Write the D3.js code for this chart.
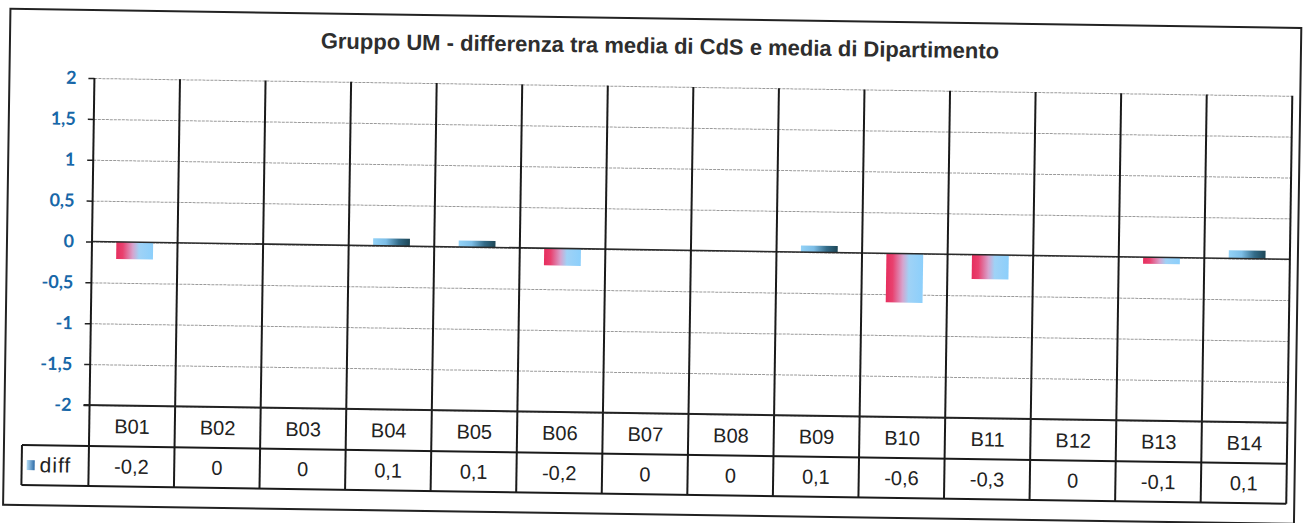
<!DOCTYPE html>
<html>
<head>
<meta charset="utf-8">
<script src="https://cdn.jsdelivr.net/npm/d3@7"></script>
<style>
  html, body { margin: 0; padding: 0; background: #fff; }
  svg { display: block; }
</style>
</head>
<body>
<svg id="chart" width="1305" height="523"></svg>
<script>
// ---- data ----
const categories = ["B01","B02","B03","B04","B05","B06","B07","B08","B09","B10","B11","B12","B13","B14"];
const diffValues = [-0.21, 0, 0, 0.09, 0.08, -0.21, 0, 0, 0.08, -0.6, -0.3, 0, -0.08, 0.1];
const yTicks = [2, 1.5, 1, 0.5, 0, -0.5, -1, -1.5, -2];
const seriesName = "diff";
const titleText = "Gruppo UM - differenza tra media di CdS e media di Dipartimento";

// ---- layout ----
const W = 1305, H = 523;
const plot = { left: 92, right: 1290, top: 78, bottom: 405 };
const table = { row1: 405, row2: 446, row3: 486, legendLeft: 25 };

const svg = d3.select("#chart");
svg.append("rect").attr("width", W).attr("height", H).attr("fill", "#fff");

const defs = svg.append("defs");
const neg = defs.append("linearGradient").attr("id", "gNeg").attr("x1", "0%").attr("x2", "100%").attr("y1", "0%").attr("y2", "0%");
[["0%", "#e62e5e"], ["18%", "#e9416f"], ["45%", "#d7a3cd"], ["62%", "#9fd2f6"], ["100%", "#8ccffb"]].forEach(s =>
  neg.append("stop").attr("offset", s[0]).attr("stop-color", s[1]));
const pos = defs.append("linearGradient").attr("id", "gPos").attr("x1", "0%").attr("x2", "100%").attr("y1", "0%").attr("y2", "0%");
[["0%", "#93d2f7"], ["35%", "#7cbde6"], ["70%", "#336b88"], ["100%", "#1d4656"]].forEach(s =>
  pos.append("stop").attr("offset", s[0]).attr("stop-color", s[1]));
const leg = defs.append("linearGradient").attr("id", "gLeg").attr("x1", "0%").attr("x2", "100%");
[["0%", "#b5def8"], ["100%", "#2c6aa6"]].forEach(s => leg.append("stop").attr("offset", s[0]).attr("stop-color", s[1]));

// whole scanned sheet is slightly rotated
const g = svg.append("g").attr("transform", "rotate(0.85, 92, 241.5)");

// outer frame
g.append("rect").attr("x", 7).attr("y", 10).attr("width", 1291).attr("height", 496)
  .attr("fill", "none").attr("stroke", "#222").attr("stroke-width", 2);

// title
g.append("text").attr("x", 657).attr("y", 45).attr("text-anchor", "middle")
  .attr("font-family", "'Liberation Sans', Arial, sans-serif").attr("font-weight", "bold")
  .attr("font-size", 22).attr("fill", "#2e2e2e").text(titleText);

// scales
const x = d3.scaleBand().domain(categories).range([plot.left, plot.right]).padding(0);
const y = d3.scaleLinear().domain([-2, 2]).range([plot.bottom, plot.top]);

// gridlines
g.append("g").attr("transform", `translate(${plot.left},0)`)
  .call(d3.axisLeft(y).tickValues(yTicks).tickSize(-(plot.right - plot.left)).tickFormat(""))
  .call(a => a.select(".domain").remove())
  .call(a => a.selectAll("line").attr("stroke", "#9a9a9a").attr("stroke-width", 1).attr("stroke-dasharray", "3,1"));

// y axis ticks and labels
g.append("g").attr("transform", `translate(${plot.left},0)`)
  .call(d3.axisLeft(y).tickValues(yTicks).tickSize(6).tickPadding(12)
    .tickFormat(d => String(d).replace(".", ",")))
  .call(a => a.select(".domain").remove())
  .call(a => a.selectAll("line").attr("stroke", "#222").attr("stroke-width", 1.5))
  .call(a => a.selectAll("text").attr("font-family", "Lato, 'Open Sans', sans-serif")
    .attr("font-weight", "bold").attr("font-size", 18).attr("fill", "#1767a8"));

// bars
const barW = x.bandwidth() * 0.43;
g.append("g").selectAll("rect").data(categories.map((c, i) => ({ c, v: diffValues[i] })).filter(d => d.v !== 0))
  .join("rect")
  .attr("x", d => x(d.c) + (x.bandwidth() - barW) / 2)
  .attr("y", d => y(Math.max(0, d.v)))
  .attr("width", barW)
  .attr("height", d => Math.abs(y(d.v) - y(0)))
  .attr("fill", d => d.v < 0 ? "url(#gNeg)" : "url(#gPos)");

// zero line
g.append("line").attr("x1", plot.left).attr("x2", plot.right).attr("y1", y(0)).attr("y2", y(0))
  .attr("stroke", "#2a2a2a").attr("stroke-width", 1.6);

// vertical category lines (through table)
const bounds = categories.map(c => x(c)).concat([plot.right]);
g.append("g").selectAll("line").data(bounds).join("line")
  .attr("x1", d => d).attr("x2", d => d).attr("y1", plot.top).attr("y2", table.row3)
  .attr("stroke", "#1a1a1a").attr("stroke-width", 2);

// table horizontal lines
g.append("line").attr("x1", plot.left - 6).attr("x2", plot.right).attr("y1", table.row1).attr("y2", table.row1)
  .attr("stroke", "#222").attr("stroke-width", 2);
[table.row2, table.row3].forEach(yy =>
  g.append("line").attr("x1", table.legendLeft).attr("x2", plot.right).attr("y1", yy).attr("y2", yy)
    .attr("stroke", "#1a1a1a").attr("stroke-width", 2));
g.append("line").attr("x1", table.legendLeft).attr("x2", table.legendLeft).attr("y1", table.row2).attr("y2", table.row3)
  .attr("stroke", "#1a1a1a").attr("stroke-width", 2);

// table texts
const fmt = v => { const r = Math.round(v * 10) / 10; return (r === 0 ? "0" : String(r)).replace(".", ","); };
const tf = "'Liberation Sans', Arial, sans-serif";
g.append("g").selectAll("text").data(categories).join("text")
  .attr("x", d => x(d) + x.bandwidth() / 2).attr("y", 433)
  .attr("text-anchor", "middle").attr("font-family", tf).attr("font-size", 20).attr("fill", "#222")
  .text(d => d);
g.append("g").selectAll("text").data(categories).join("text")
  .attr("x", d => x(d) + x.bandwidth() / 2).attr("y", 473)
  .attr("text-anchor", "middle").attr("font-family", tf).attr("font-size", 20).attr("fill", "#222")
  .text((d, i) => fmt(diffValues[i]));

// legend key
g.append("rect").attr("x", 30).attr("y", 461).attr("width", 8).attr("height", 10).attr("fill", "url(#gLeg)");
g.append("text").attr("x", 43).attr("y", 473).attr("font-family", tf).attr("font-size", 21)
  .attr("letter-spacing", 1).attr("fill", "#222").text(seriesName);
</script>
</body>
</html>
